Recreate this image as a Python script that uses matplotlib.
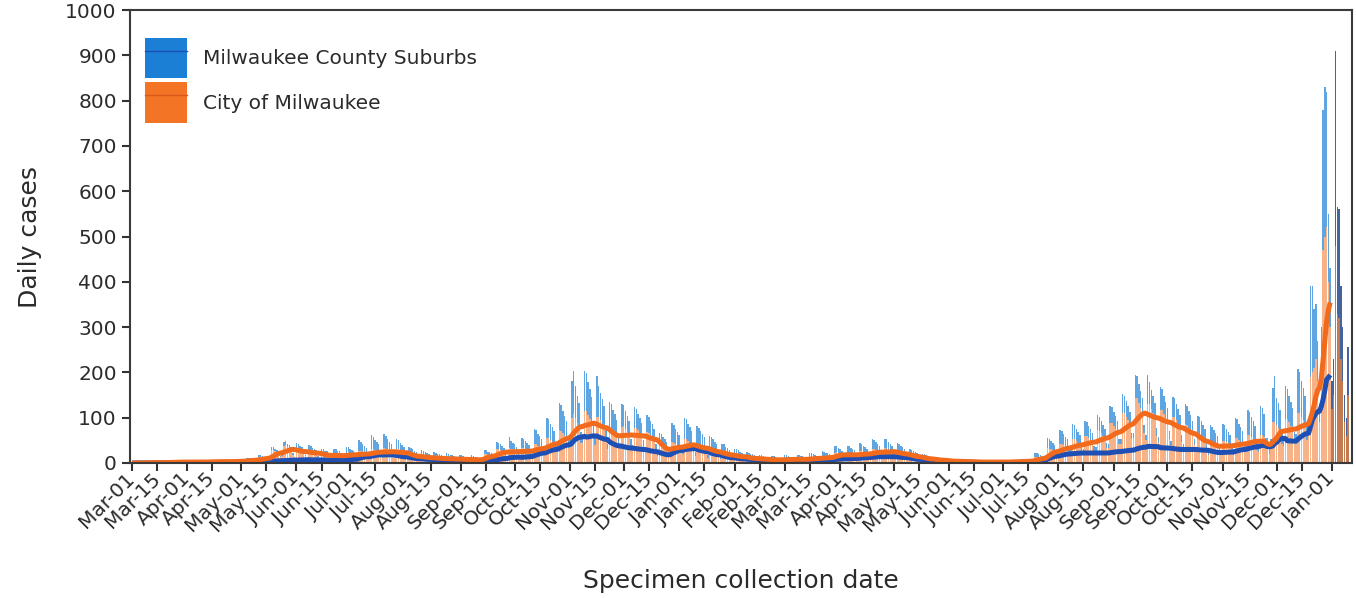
import matplotlib
matplotlib.use("Agg")
import matplotlib.pyplot as plt
import matplotlib.dates as mdates
from matplotlib.patches import Patch
from matplotlib.lines import Line2D
import numpy as np
import pandas as pd

# Daily COVID-19 cases by specimen collection date, Milwaukee County.
# First value is Sun 2020-03-01, one row per week (Sun..Sat).
start_date = "2020-03-01"
provisional_from = "2022-01-01"   # most recent days, drawn darker
last_avg_date = "2021-12-31"      # 7-day averages stop here

city = [
    0, 0, 0, 0, 1, 0, 0,
    0, 1, 1, 2, 1, 1, 0,
    0, 2, 1, 1, 2, 1, 0,
    1, 3, 2, 3, 2, 2, 1,
    1, 3, 3, 2, 3, 2, 1,
    1, 3, 2, 3, 2, 2, 1,
    1, 4, 4, 3, 3, 3, 2,
    2, 4, 4, 4, 3, 3, 1,
    2, 5, 5, 5, 4, 4, 2,
    3, 8, 8, 7, 7, 6, 3,
    5, 13, 13, 12, 11, 10, 6,
    11, 28, 29, 26, 24, 22, 14,
    15, 38, 40, 36, 33, 30, 18,
    12, 33, 32, 30, 28, 25, 15,
    11, 29, 28, 26, 24, 22, 13,
    8, 22, 22, 20, 19, 17, 10,
    8, 21, 21, 19, 18, 16, 10,
    9, 23, 24, 22, 20, 18, 11,
    10, 26, 26, 24, 22, 20, 12,
    12, 31, 32, 29, 26, 24, 14,
    12, 33, 32, 30, 27, 25, 15,
    11, 30, 30, 28, 25, 23, 14,
    7, 20, 20, 18, 16, 15, 9,
    6, 16, 15, 14, 13, 12, 7,
    5, 13, 13, 12, 11, 10, 6,
    4, 12, 12, 11, 10, 9, 5,
    4, 10, 11, 10, 9, 8, 4,
    3, 9, 9, 8, 8, 7, 5,
    7, 19, 20, 18, 17, 15, 9,
    12, 31, 31, 29, 26, 24, 15,
    12, 33, 32, 30, 28, 25, 15,
    13, 34, 34, 31, 29, 26, 16,
    16, 42, 42, 38, 35, 32, 19,
    21, 55, 55, 50, 46, 42, 25,
    27, 72, 71, 66, 60, 55, 33,
    40, 100, 108, 100, 88, 80, 44,
    44, 114, 114, 106, 97, 88, 53,
    39, 101, 101, 94, 86, 78, 47,
    30, 78, 78, 72, 66, 60, 36,
    31, 80, 81, 74, 68, 62, 37,
    30, 78, 78, 72, 66, 60, 36,
    26, 68, 67, 62, 57, 52, 31,
    15, 39, 39, 36, 33, 30, 18,
    17, 46, 45, 42, 38, 35, 21,
    20, 52, 52, 48, 44, 40, 24,
    16, 43, 43, 40, 36, 33, 20,
    12, 33, 32, 30, 27, 25, 15,
    9, 23, 24, 22, 20, 18, 10,
    7, 18, 18, 17, 15, 14, 9,
    5, 13, 13, 12, 11, 10, 6,
    4, 10, 11, 10, 9, 8, 4,
    3, 9, 9, 8, 8, 7, 5,
    4, 10, 10, 10, 9, 8, 5,
    4, 11, 10, 9, 9, 8, 5,
    5, 13, 13, 12, 11, 10, 6,
    6, 16, 15, 14, 13, 12, 8,
    9, 23, 24, 22, 20, 18, 10,
    9, 23, 23, 22, 20, 18, 11,
    10, 26, 26, 24, 22, 20, 12,
    12, 31, 31, 29, 26, 24, 15,
    12, 33, 32, 30, 28, 25, 15,
    10, 26, 26, 24, 22, 20, 12,
    7, 18, 18, 17, 15, 14, 9,
    4, 12, 12, 11, 10, 9, 5,
    3, 8, 8, 7, 7, 6, 3,
    2, 5, 5, 5, 4, 4, 3,
    1, 4, 4, 4, 3, 3, 2,
    1, 3, 3, 2, 2, 2, 1,
    1, 3, 2, 3, 2, 2, 1,
    1, 2, 3, 2, 2, 2, 1,
    1, 4, 4, 4, 3, 3, 2,
    2, 5, 5, 5, 4, 4, 3,
    5, 13, 13, 12, 11, 10, 6,
    12, 33, 32, 30, 28, 25, 15,
    16, 43, 43, 40, 36, 33, 20,
    20, 52, 52, 48, 44, 40, 24,
    23, 60, 60, 55, 51, 46, 27,
    27, 72, 71, 66, 60, 55, 34,
    34, 88, 88, 82, 75, 68, 41,
    42, 110, 110, 102, 94, 85, 52,
    55, 143, 143, 132, 121, 110, 66,
    50, 130, 130, 120, 110, 100, 60,
    45, 117, 117, 108, 99, 90, 54,
    39, 101, 101, 94, 86, 78, 47,
    32, 85, 84, 78, 72, 65, 39,
    24, 62, 62, 58, 53, 48, 29,
    18, 48, 48, 44, 41, 37, 22,
    19, 49, 49, 46, 42, 38, 23,
    21, 55, 55, 50, 46, 42, 25,
    24, 62, 62, 58, 53, 48, 29,
    24, 62, 62, 58, 30, 30, 20,
    35, 91, 91, 84, 77, 70, 42,
    37, 97, 97, 90, 82, 75, 45,
    42, 110, 110, 102, 94, 85, 51,
    60, 190, 200, 210, 230, 180, 90,
    200, 470, 500, 520, 400, 300, 120,
    150, 480, 330, 320, 230, 180, 90,
    60, 150,
]

suburbs = [
    0, 0, 0, 0, 0, 0, 0,
    0, 0, 1, 1, 0, 1, 0,
    0, 1, 2, 1, 1, 1, 0,
    0, 2, 1, 1, 2, 1, 0,
    0, 1, 2, 1, 1, 1, 1,
    0, 2, 1, 2, 1, 1, 0,
    0, 2, 2, 1, 1, 1, 0,
    1, 2, 1, 2, 1, 1, 0,
    1, 3, 3, 2, 2, 2, 1,
    1, 3, 3, 3, 2, 2, 1,
    1, 5, 4, 4, 3, 3, 1,
    2, 8, 7, 6, 5, 5, 2,
    2, 9, 9, 7, 7, 6, 3,
    2, 11, 10, 8, 8, 7, 3,
    3, 10, 10, 8, 8, 7, 3,
    2, 9, 8, 7, 7, 6, 3,
    2, 11, 10, 8, 8, 7, 3,
    3, 12, 11, 10, 9, 8, 4,
    4, 24, 20, 17, 15, 13, 5,
    5, 30, 26, 22, 20, 17, 6,
    5, 30, 27, 22, 20, 17, 6,
    4, 22, 20, 17, 15, 13, 5,
    3, 15, 14, 12, 11, 9, 4,
    2, 12, 11, 10, 9, 8, 3,
    2, 11, 10, 8, 8, 7, 3,
    2, 9, 8, 7, 7, 6, 3,
    2, 8, 7, 6, 5, 5, 2,
    1, 8, 7, 6, 6, 5, 2,
    2, 9, 8, 7, 7, 6, 3,
    3, 15, 14, 12, 11, 10, 5,
    4, 25, 17, 14, 13, 11, 6,
    5, 21, 20, 17, 15, 13, 7,
    8, 33, 31, 26, 24, 21, 11,
    10, 45, 42, 36, 33, 28, 15,
    14, 60, 56, 48, 44, 38, 20,
    19, 80, 95, 70, 60, 52, 24,
    21, 90, 84, 72, 66, 57, 30,
    18, 90, 70, 60, 55, 48, 25,
    13, 57, 53, 46, 42, 36, 19,
    12, 50, 46, 40, 36, 31, 17,
    10, 45, 42, 36, 33, 28, 15,
    9, 38, 35, 30, 28, 24, 12,
    6, 27, 25, 22, 20, 17, 9,
    10, 42, 39, 34, 31, 27, 14,
    11, 48, 45, 38, 35, 30, 16,
    9, 38, 35, 30, 28, 24, 12,
    6, 27, 25, 22, 20, 17, 9,
    4, 18, 17, 14, 13, 11, 6,
    3, 14, 13, 11, 10, 9, 4,
    2, 11, 10, 8, 8, 7, 3,
    2, 8, 7, 6, 5, 5, 2,
    1, 6, 6, 5, 4, 4, 2,
    2, 8, 7, 6, 5, 5, 2,
    2, 7, 7, 6, 6, 5, 2,
    2, 9, 8, 7, 7, 6, 3,
    2, 11, 10, 8, 8, 7, 3,
    3, 14, 13, 11, 10, 9, 4,
    3, 15, 14, 12, 11, 10, 5,
    4, 18, 17, 14, 13, 11, 7,
    5, 21, 20, 17, 15, 13, 7,
    5, 21, 20, 17, 15, 13, 7,
    4, 18, 17, 14, 13, 11, 7,
    3, 12, 11, 10, 9, 8, 3,
    2, 8, 7, 6, 5, 5, 2,
    1, 5, 4, 4, 3, 3, 1,
    1, 3, 3, 2, 2, 2, 1,
    0, 3, 3, 2, 2, 2, 1,
    0, 2, 1, 1, 1, 1, 1,
    0, 1, 2, 1, 1, 1, 0,
    0, 2, 1, 1, 1, 1, 0,
    0, 2, 2, 1, 1, 1, 0,
    1, 3, 3, 2, 2, 2, 1,
    2, 9, 8, 7, 7, 6, 3,
    5, 23, 21, 18, 17, 14, 7,
    7, 30, 28, 24, 22, 19, 10,
    8, 33, 31, 26, 24, 21, 11,
    8, 33, 31, 26, 24, 21, 11,
    8, 33, 31, 26, 24, 21, 11,
    9, 38, 35, 30, 28, 24, 12,
    10, 42, 39, 34, 31, 27, 14,
    12, 52, 49, 42, 38, 33, 18,
    12, 65, 48, 41, 37, 32, 17,
    12, 50, 46, 40, 36, 31, 16,
    10, 45, 42, 36, 33, 28, 15,
    10, 45, 42, 36, 33, 28, 15,
    10, 42, 39, 34, 31, 27, 14,
    8, 35, 32, 28, 25, 22, 12,
    8, 36, 34, 29, 26, 23, 12,
    10, 45, 42, 36, 33, 28, 15,
    13, 54, 50, 43, 40, 34, 18,
    15, 63, 59, 50, 25, 25, 15,
    17, 75, 100, 60, 55, 48, 25,
    17, 72, 67, 58, 53, 46, 24,
    23, 98, 91, 78, 72, 62, 32,
    30, 200, 190, 130, 120, 90, 40,
    100, 310, 330, 300, 150, 130, 60,
    80, 430, 235, 240, 160, 120, 60,
    40, 106,
]

city_bar = "#f27424"
sub_bar = "#1b7fd6"
city_line = "#f26a1b"
sub_line = "#1e4fb4"
text_col = "#2b2b2b"

dates = pd.date_range(start_date, periods=len(city), freq="D")
city = np.array(city, dtype=float)
suburbs = np.array(suburbs, dtype=float)
prov = np.asarray(dates >= pd.Timestamp(provisional_from))
done = ~prov

city_avg = pd.Series(city, index=dates).rolling(7, min_periods=1).mean()[:last_avg_date]
sub_avg = pd.Series(suburbs, index=dates).rolling(7, min_periods=1).mean()[:last_avg_date]

fig = plt.figure(figsize=(13.56, 5.98), dpi=100)
ax = fig.add_axes([130 / 1356, 1 - 463 / 598, 1222 / 1356, 453 / 598])

w = 0.8
ax.bar(dates[done], city[done], width=w, color=city_bar, alpha=0.55, linewidth=0)
ax.bar(dates[done], suburbs[done], bottom=city[done], width=w, color=sub_bar, alpha=0.7, linewidth=0)
ax.bar(dates[prov], city[prov], width=w, color="#c27a50", linewidth=0)
ax.bar(dates[prov], suburbs[prov], bottom=city[prov], width=w, color="#45639c", linewidth=0)

ax.plot(sub_avg.index, sub_avg.values, color=sub_line, lw=3.6, solid_capstyle="butt")
ax.plot(city_avg.index, city_avg.values, color=city_line, lw=3.6, solid_capstyle="butt")

ax.set_xlim(pd.Timestamp("2020-03-01") - pd.Timedelta(days=1.1),
            pd.Timestamp("2022-01-01") + pd.Timedelta(days=11.2))
ax.set_ylim(0, 1000)
ax.set_yticks(np.arange(0, 1001, 100))

ax.xaxis.set_major_locator(mdates.DayLocator(bymonthday=[1, 15]))
ax.xaxis.set_major_formatter(mdates.DateFormatter("%b-%d"))
ax.tick_params(axis="both", length=6, width=1.5, color="#333333",
               labelsize=14.5, labelcolor=text_col)
ax.tick_params(axis="x", pad=3)
for lab in ax.get_xticklabels():
    lab.set_rotation(45)
    lab.set_ha("right")
    lab.set_va("center")
    lab.set_rotation_mode("anchor")

for sp in ax.spines.values():
    sp.set_linewidth(1.5)
    sp.set_color("#3a3a3a")

ax.set_ylabel("Daily cases", fontsize=18, color=text_col)
ax.yaxis.set_label_coords(-0.072, 0.5)
ax.set_xlabel("Specimen collection date", fontsize=18, color=text_col)
ax.xaxis.set_label_coords(0.5, -0.235)

handles = [
    (Patch(facecolor=sub_bar, edgecolor="none"), Line2D([], [], color=sub_line, lw=1)),
    (Patch(facecolor=city_bar, edgecolor="none"), Line2D([], [], color="#d9581a", lw=1)),
]
ax.legend(handles, ["Milwaukee County Suburbs", "City of Milwaukee"],
          loc="upper left", bbox_to_anchor=(0.0123, 0.938), frameon=False,
          fontsize=14.5, labelcolor=text_col, handlelength=2.1, handleheight=2.7,
          handletextpad=0.8, labelspacing=0.2, borderpad=0, borderaxespad=0)

fig.savefig("out.png", dpi=100)
